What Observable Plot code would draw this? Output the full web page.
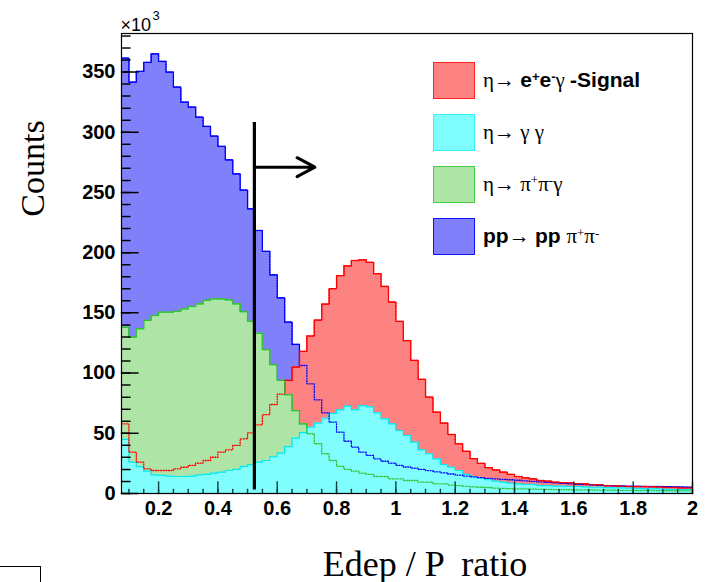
<!DOCTYPE html>
<html><head><meta charset="utf-8">
<script src="https://cdn.jsdelivr.net/npm/d3@7"></script>
<script src="https://cdn.jsdelivr.net/npm/@observablehq/plot@0.6"></script>
<style>
body{margin:0;background:#fff;}
#wrap{position:relative;width:707px;height:582px;overflow:hidden;background:#fff;}
.leg{position:absolute;left:483px;white-space:nowrap;font-size:21px;line-height:21px;transform:translateY(-50%);}
.sym{font-family:"Liberation Serif","Times New Roman",serif;font-weight:normal;}
.bd{font-family:"Liberation Sans",Arial,sans-serif;font-weight:bold;}
.sw{position:absolute;left:433px;width:40px;height:35px;border:1px solid;}
sup{font-size:0.62em;vertical-align:0.5em;line-height:0;}
#corner{position:absolute;left:0;top:566px;width:40px;height:30px;border-top:1px solid #000;border-right:1px solid #000;}
</style></head><body><div id="wrap"></div>
<script>
// histogram binning (x = Edep / P ratio)
const binStart = 0.075;
const binWidth = 0.025;
const nBins = 77;
// counts (x10^3) per bin
const ppPiPi = [361.5, 341.6, 350.5, 358, 365, 358.8, 350, 337.5, 325, 320.8,
  312.5, 304.8, 296.8, 288.2, 277, 265.5, 252, 236.4, 218.4, 201,
  181.6, 162.5, 142.3, 123.8, 106.3, 91.1, 77.8, 67, 59.2, 50.9,
  43.4, 38.5, 34.3, 31.6, 28.8, 26.8, 25.2, 23.3, 22, 21,
  20, 19, 18, 17.2, 16.2, 15.3, 14.5, 13.8, 13.2, 12.6,
  12.2, 11.8, 11.4, 11, 10.5, 10, 9.6, 9.2, 8.8, 8.4,
  8, 7.7, 7.4, 7.1, 6.8, 6.6, 6.4, 6.2, 6, 5.9,
  5.8, 5.8, 5.8, 5.6, 5.4, 5.3, 5.2];
const eeGamma = [57.9, 34.3, 26, 20.5, 19.1, 19.1, 19.1, 20.5, 21.8, 23.3,
  25.2, 27.4, 30.1, 34.3, 36.3, 39.9, 45.4, 50.4, 57, 65.5,
  73.9, 82.5, 93.9, 104.9, 118, 130.8, 144, 157.3, 170.2, 181,
  189, 193.5, 194, 192, 182.5, 172, 159, 142.9, 127, 110.5,
  94.8, 80, 67.5, 58.5, 49, 41.3, 35, 29, 25, 21.5,
  19.5, 17.7, 15.8, 14.1, 13, 12.2, 10.8, 10.2, 9.4, 9,
  8.9, 8.2, 8, 7.4, 7.2, 6.6, 6.4, 6, 5.8, 5.8,
  5.8, 5.6, 5.5, 5, 5, 4.7, 4.7];
const pipiGamma = [138, 129.8, 136.8, 143.7, 147.8, 150.6, 150.6, 151.2, 153.4, 155.3,
  157.5, 160.3, 161.7, 161.7, 160.8, 157.5, 151, 143, 133, 119.5,
  107, 93.9, 82, 68.9, 57.9, 49.6, 41.3, 33, 27.4, 22.5,
  20, 18.5, 16.9, 15.8, 14.1, 14.1, 12.2, 12.2, 10.8, 10.8,
  9.4, 9.4, 8, 8, 7, 6.6, 6, 5.5, 5.2, 5,
  4.5, 4.2, 4, 3.9, 3.8, 3.6, 3.5, 3.4, 3.3, 3.2,
  3.1, 3, 3, 2.9, 2.8, 2.8, 2.7, 2.6, 2.6, 2.5,
  2.5, 2.4, 2.4, 2.3, 2.3, 2.2, 2.2];
const gammaGamma = [45, 26, 22.4, 18.5, 15.5, 15, 14.5, 14.1, 14.1, 14.5,
  15.5, 15.8, 16.9, 17.7, 19.1, 20, 22.5, 24, 26, 27.4,
  30.5, 33.5, 39, 46, 50.5, 55, 58.5, 62.5, 66.5, 69.5,
  72.5, 69.5, 73, 72, 67, 62, 57.9, 52.3, 48.2, 42.6,
  36.3, 33, 28.8, 24.1, 21.8, 19.1, 15.8, 14.1, 12.7, 11.4,
  10.2, 9.4, 8.6, 8, 7.5, 7.5, 6.6, 6.6, 6.1, 6.1,
  5.8, 5.8, 5.5, 5.2, 5.2, 4.9, 4.7, 4.7, 4.5, 4.2,
  4, 3.9, 3.8, 3.5, 3.4, 3.3, 3.2];

const xLabels = [0.2, 0.4, 0.6, 0.8, 1, 1.2, 1.4, 1.6, 1.8, 2];
const xMinorTicks = [0.1,0.15,0.2,0.25,0.3,0.35,0.4,0.45,0.5,0.55,0.6,0.65,0.7,0.75,0.8,0.85,0.9,0.95,1,
  1.05,1.1,1.15,1.2,1.25,1.3,1.35,1.4,1.45,1.5,1.55,1.6,1.65,1.7,1.75,1.8,1.85,1.9,1.95,2];
const yLabels = [0, 50, 100, 150, 200, 250, 300, 350];
const yMinorTicks = [0,10,20,30,40,50,60,70,80,90,100,110,120,130,140,150,160,170,180,190,200,
  210,220,230,240,250,260,270,280,290,300,310,320,330,340,350,360,370,380];
const xDomain = [0.075, 2];
const yDomain = [0, 382];

// cut line and arrow
const cutX = 0.523;
const cutLine = [{x: cutX, y1: 3, y2: 308}];
const cutArrow = [{x1: cutX, x2: 0.727, y: 271}];

const series = [
  {name: "pp", vals: ppPiPi, fill: "#8080fb", stroke: "#0000ff"},
  {name: "ee", vals: eeGamma, fill: "#fd8282", stroke: "#ff0000"},
  {name: "pipi", vals: pipiGamma, fill: "#aee4a6", stroke: "#2fc42f"},
  {name: "gg", vals: gammaGamma, fill: "#80fdfd", stroke: "#00e8f0"}
];
const edges = d3.range(nBins + 1).map(i => +(binStart + i * binWidth).toFixed(4));
const steps = vals => edges.map((x, i) => ({x, y: vals[Math.min(i, vals.length - 1)]}));

const tickShape = {draw(ctx, l) { ctx.moveTo(0, 0); ctx.lineTo(0, -l); }};
const sans = "'Liberation Sans Narrow','Liberation Sans',Arial,sans-serif";
const serif = "'Liberation Serif','Times New Roman',serif";

const marks = [];
for (const s of series) {
  const d = steps(s.vals);
  marks.push(Plot.areaY(d, {x: "x", y: "y", curve: "step-after", fill: s.fill}));
  marks.push(Plot.lineY(d, {x: "x", y: "y", curve: "step-after", stroke: s.stroke, strokeWidth: 1.2}));
}
for (const s of series.slice(0, 3)) {
  marks.push(Plot.lineY(steps(s.vals), {x: "x", y: "y", curve: "step-after", stroke: s.stroke, strokeWidth: 1.3, strokeDasharray: "1,1.6"}));
}
marks.push(
  Plot.vector(yMinorTicks, {x: () => xDomain[0], y: d => d, length: 8.5, rotate: 90, anchor: "start", shape: tickShape, stroke: "#000", strokeDasharray: "1.5,1"}),
  Plot.vector(yLabels, {x: () => xDomain[0], y: d => d, length: 17, rotate: 90, anchor: "start", shape: tickShape, stroke: "#000", strokeDasharray: "1.5,1"}),
  Plot.vector(xMinorTicks, {x: d => d, y: () => 0, length: 5, rotate: 0, anchor: "start", shape: tickShape, stroke: "#0a3a3a", strokeDasharray: "1.5,1"}),
  Plot.vector(xLabels, {x: d => d, y: () => 0, length: 12, rotate: 0, anchor: "start", shape: tickShape, stroke: "#0a3a3a", strokeDasharray: "1.5,1"}),
  Plot.ruleX(cutLine, {x: "x", y1: "y1", y2: "y2", stroke: "#000", strokeWidth: 3.2}),
  Plot.arrow(cutArrow, {x1: "x1", x2: "x2", y1: "y", y2: "y", stroke: "#000", strokeWidth: 3, headLength: 12, headAngle: 56}),
  Plot.axisX(xLabels, {tickSize: 0, tickPadding: 7, tickFormat: d => String(d), fontFamily: sans, fontWeight: "bold", fontSize: 20, label: null}),
  Plot.axisY(yLabels, {tickSize: 0, tickPadding: 6, tickFormat: d => String(d), fontFamily: sans, fontWeight: "bold", fontSize: 20, label: null}),
  Plot.text(["×10"], {frameAnchor: "top-left", dy: -3, dx: -1, textAnchor: "start", lineAnchor: "bottom", fontFamily: "'Liberation Sans',Arial,sans-serif", fontSize: 18, fill: "#000"}),
  Plot.text(["3"], {frameAnchor: "top-left", dy: -14, dx: 31, textAnchor: "start", lineAnchor: "bottom", fontFamily: "'Liberation Sans',Arial,sans-serif", fontSize: 13, fill: "#000"}),
  Plot.text(["Counts"], {frameAnchor: "left", dx: -88, dy: -95, rotate: -90, textAnchor: "middle", lineAnchor: "middle", fontFamily: serif, fontSize: 34, fill: "#000"}),
  Plot.text(["Edep / P  ratio"], {frameAnchor: "bottom", dx: 18, dy: 82, textAnchor: "middle", lineAnchor: "bottom", fontFamily: serif, fontSize: 36, fill: "#000"}),
  Plot.frame({stroke: "#000", strokeWidth: 1.2})
);

const chart = Plot.plot({
  width: 707, height: 582,
  marginLeft: 121, marginRight: 15, marginTop: 33, marginBottom: 89,
  x: {domain: xDomain},
  y: {domain: yDomain},
  style: {background: "#fff", overflow: "visible", fontFamily: sans},
  marks
});
const wrap = document.getElementById("wrap");
wrap.appendChild(chart);

// legend
const legend = [
  {html: '<span class="sym">η→ </span><span class="bd">e<sup>+</sup>e<sup>-</sup></span><span class="sym">γ </span><span class="bd">-Signal</span>', fill: "#fd8282", stroke: "#ff2020", cy: 80},
  {html: '<span class="sym">η→ γ γ</span>', fill: "#80fdfd", stroke: "#30f0f0", cy: 132},
  {html: '<span class="sym">η→ π<sup>+</sup>π<sup>-</sup>γ</span>', fill: "#aee4a6", stroke: "#40d040", cy: 184},
  {html: '<span class="bd">pp</span><span class="sym">→ </span><span class="bd">pp </span><span class="sym">π<sup>+</sup>π<sup>-</sup></span>', fill: "#8080fb", stroke: "#1010ff", cy: 236}
];
for (const l of legend) {
  const sw = document.createElement("div");
  sw.className = "sw";
  sw.style.top = (l.cy - 18) + "px";
  sw.style.background = l.fill;
  sw.style.borderColor = l.stroke;
  wrap.appendChild(sw);
  const t = document.createElement("div");
  t.className = "leg";
  t.style.top = l.cy + "px";
  t.innerHTML = l.html;
  wrap.appendChild(t);
}
const corner = document.createElement("div");
corner.id = "corner";
wrap.appendChild(corner);
</script>
</body></html>
